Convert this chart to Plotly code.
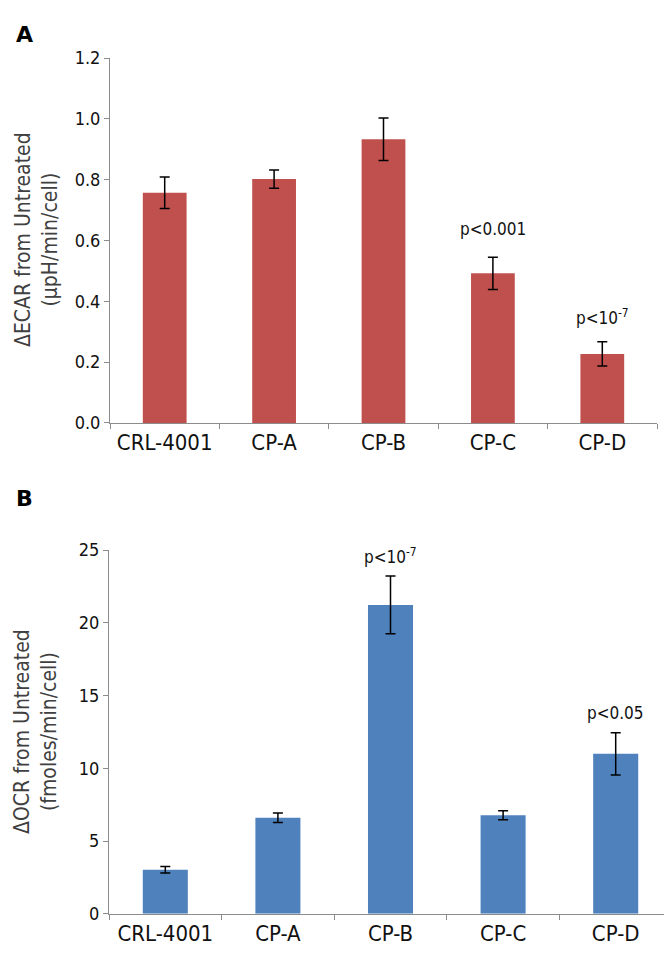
import plotly.graph_objects as go

# data
categories = ["CRL-4001", "CP-A", "CP-B", "CP-C", "CP-D"]

ecar_values = [0.757, 0.802, 0.933, 0.492, 0.227]
ecar_errors = [0.052, 0.030, 0.070, 0.053, 0.040]

ocr_values = [3.03, 6.60, 21.23, 6.78, 11.00]
ocr_errors = [0.22, 0.33, 1.98, 0.31, 1.45]

ecar_notes = [("CP-C", 0.638, "p<0.001"), ("CP-D", 0.350, "p<10<sup>-7</sup>")]
ocr_notes = [("CP-B", 24.6, "p<10<sup>-7</sup>"), ("CP-D", 13.8, "p<0.05")]

W, H = 672, 954
FONT = "DejaVu Sans Condensed, DejaVu Sans"
AXIS_GREY = "#8c8c8c"


def px_x(p):
    return p / W


def px_y(p):
    # pixel from top -> paper fraction from bottom
    return 1 - p / H


fig = go.Figure()

# Panel A - ECAR
fig.add_trace(
    go.Bar(
        x=categories,
        y=ecar_values,
        marker=dict(color="#C0504D", line=dict(width=0)),
        error_y=dict(type="data", array=ecar_errors, color="black", thickness=1.5, width=5),
        xaxis="x",
        yaxis="y",
        showlegend=False,
    )
)

# Panel B - OCR
fig.add_trace(
    go.Bar(
        x=categories,
        y=ocr_values,
        marker=dict(color="#4F81BD", line=dict(width=0)),
        error_y=dict(type="data", array=ocr_errors, color="black", thickness=1.5, width=5),
        xaxis="x2",
        yaxis="y2",
        showlegend=False,
    )
)

xaxis_style = dict(
    type="category",
    showline=True,
    linecolor=AXIS_GREY,
    linewidth=1,
    ticks="outside",
    tickson="boundaries",
    ticklen=5,
    tickcolor=AXIS_GREY,
    showgrid=False,
    tickfont=dict(family=FONT, size=22, color="#111111"),
)
yaxis_style = dict(
    showline=True,
    linecolor=AXIS_GREY,
    linewidth=1,
    ticks="outside",
    ticklen=5,
    tickcolor=AXIS_GREY,
    showgrid=False,
    zeroline=False,
    tickfont=dict(family=FONT, size=18, color="#111111"),
)

fig.update_layout(
    width=W,
    height=H,
    margin=dict(l=0, r=0, t=0, b=0),
    paper_bgcolor="white",
    plot_bgcolor="white",
    bargap=0.6,
    font=dict(family=FONT),
    xaxis=dict(xaxis_style, domain=[px_x(102), px_x(649)], anchor="y"),
    yaxis=dict(
        yaxis_style,
        domain=[px_y(413), px_y(40)],
        range=[0, 1.2],
        dtick=0.2,
        tickformat=".1f",
        anchor="x",
    ),
    xaxis2=dict(xaxis_style, domain=[px_x(101), px_x(664)], anchor="y2"),
    yaxis2=dict(
        yaxis_style,
        domain=[px_y(915), px_y(543)],
        range=[0, 25],
        dtick=5,
        anchor="x2",
    ),
)

annotations = []

# y axis titles
title_font = dict(family=FONT, size=21, color="#404040")
annotations.append(
    dict(
        text="ΔECAR from Untreated<br>(µpH/min/cell)",
        xref="paper", yref="paper",
        x=px_x(28), y=px_y(226),
        xanchor="center", yanchor="middle",
        textangle=-90, showarrow=False,
        font=title_font,
    )
)
annotations.append(
    dict(
        text="ΔOCR from Untreated<br>(fmoles/min/cell)",
        xref="paper", yref="paper",
        x=px_x(28), y=px_y(729),
        xanchor="center", yanchor="middle",
        textangle=-90, showarrow=False,
        font=title_font,
    )
)

# panel letters
letter_font = dict(family="DejaVu Sans", size=22, color="black")
annotations.append(
    dict(text="<b>A</b>", xref="paper", yref="paper", x=px_x(6), y=px_y(1),
         xanchor="left", yanchor="top", showarrow=False, font=letter_font)
)
annotations.append(
    dict(text="<b>B</b>", xref="paper", yref="paper", x=px_x(6), y=px_y(475),
         xanchor="left", yanchor="top", showarrow=False, font=letter_font)
)

# p-value labels
note_font = dict(family=FONT, size=17, color="#111111")
for cat, yv, txt in ecar_notes:
    annotations.append(
        dict(text=txt, x=cat, y=yv, xref="x", yref="y", showarrow=False, font=note_font)
    )
for cat, yv, txt in ocr_notes:
    annotations.append(
        dict(text=txt, x=cat, y=yv, xref="x2", yref="y2", showarrow=False, font=note_font)
    )

fig.update_layout(annotations=annotations)

fig.write_html("out.html")
